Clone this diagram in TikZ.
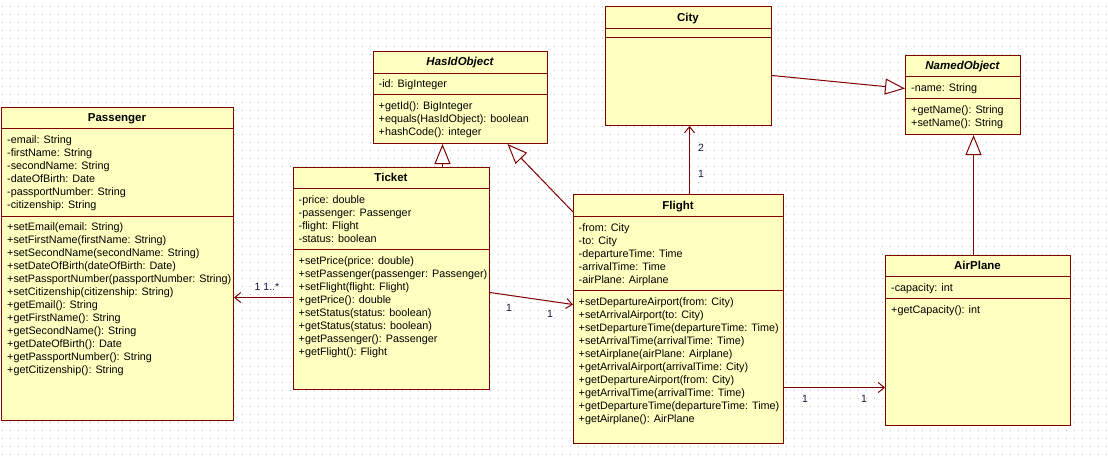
\documentclass[tikz,border=0pt]{standalone}
\usepackage{fontspec}
\setmainfont{Liberation Sans}
\usetikzlibrary{arrows.meta}
\definecolor{umlborder}{RGB}{128,0,0}
\definecolor{umlfill}{RGB}{255,255,192}
\definecolor{griddot}{RGB}{190,190,190}
\definecolor{multcol}{RGB}{20,20,70}
\newcommand\umllines[1]{\begin{tabular}[t]{@{}l@{}}#1\end{tabular}}
\tikzset{
  classbox/.style={draw=umlborder, fill=umlfill, line width=1pt, inner sep=0pt, anchor=north west},
  umltitle/.style={font=\fontsize{11.5}{13}\selectfont\bfseries, anchor=base, inner sep=0pt},
  abstracttitle/.style={font=\fontsize{11.5}{13}\selectfont\bfseries\itshape, anchor=base, inner sep=0pt},
  members/.style={font=\fontsize{10.8}{13}\selectfont, anchor=base west, inner sep=0pt},
  sepline/.style={draw=umlborder, line width=1pt},
  assoc/.style={draw=umlborder, line width=1pt, -{Straight Barb[length=6pt,width=10pt]}},
  gener/.style={draw=umlborder, line width=1pt, -{Triangle[open,length=20pt,width=16pt,fill=white]}},
  mult/.style={font=\fontsize{10.5}{12}\selectfont, text=multcol, inner sep=0pt},
  griddots/.style={draw=griddot, line width=1pt, dash pattern=on 1pt off 7pt}
}
\begin{document}
\begin{tikzpicture}[x=1pt,y=-1pt]
\fill[white] (0,0) rectangle (1108,456);
\useasboundingbox (0,0) rectangle (1108,456);
\foreach \gy in {6,14,...,454} \draw[griddots] (1.5,\gy) -- (1108,\gy);

% ---------------- Passenger
\node[classbox, minimum width=232pt, minimum height=313pt] (passenger) at (1,107) {};
\node[umltitle] (passenger-title) at (117,121) {Passenger};
\draw[sepline] (passenger.west |- 0,128) -- (passenger.east |- 0,128);
\draw[sepline] (passenger.west |- 0,216) -- (passenger.east |- 0,216);
\node[members] (passenger-attrs) at (7,143) {\umllines{-email: String\\-firstName: String\\-secondName: String\\-dateOfBirth: Date\\-passportNumber: String\\-citizenship: String}};
\node[members] (passenger-ops) at (7,230) {\umllines{+setEmail(email: String)\\+setFirstName(firstName: String)\\+setSecondName(secondName: String)\\+setDateOfBirth(dateOfBirth: Date)\\+setPassportNumber(passportNumber: String)\\+setCitizenship(citizenship: String)\\+getEmail(): String\\+getFirstName(): String\\+getSecondName(): String\\+getDateOfBirth(): Date\\+getPassportNumber(): String\\+getCitizenship(): String}};

% ---------------- HasIdObject
\node[classbox, minimum width=174pt, minimum height=92pt] (hasid) at (373,51) {};
\node[abstracttitle] (hasid-title) at (460,65) {HasIdObject};
\draw[sepline] (hasid.west |- 0,73) -- (hasid.east |- 0,73);
\draw[sepline] (hasid.west |- 0,94) -- (hasid.east |- 0,94);
\node[members] (hasid-attrs) at (378.5,87) {\umllines{-id: BigInteger}};
\node[members] (hasid-ops) at (378.5,109) {\umllines{+getId(): BigInteger\\+equals(HasIdObject): boolean\\+hashCode(): integer}};

% ---------------- Ticket
\node[classbox, minimum width=196pt, minimum height=222pt] (ticket) at (293,167) {};
\node[umltitle] (ticket-title) at (391,181) {Ticket};
\draw[sepline] (ticket.west |- 0,188) -- (ticket.east |- 0,188);
\draw[sepline] (ticket.west |- 0,249) -- (ticket.east |- 0,249);
\node[members] (ticket-attrs) at (298.5,203) {\umllines{-price: double\\-passenger: Passenger\\-flight: Flight\\-status: boolean}};
\node[members] (ticket-ops) at (298.5,264) {\umllines{+setPrice(price: double)\\+setPassenger(passenger: Passenger)\\+setFlight(flight: Flight)\\+getPrice(): double\\+setStatus(status: boolean)\\+getStatus(status: boolean)\\+getPassenger(): Passenger\\+getFlight(): Flight}};

% ---------------- City
\node[classbox, minimum width=166pt, minimum height=119pt] (city) at (605,6) {};
\node[umltitle] (city-title) at (688,21) {City};
\draw[sepline] (city.west |- 0,28) -- (city.east |- 0,28);
\draw[sepline] (city.west |- 0,37) -- (city.east |- 0,37);

% ---------------- Flight
\node[classbox, minimum width=210pt, minimum height=249pt] (flight) at (573,194) {};
\node[umltitle] (flight-title) at (678,209) {Flight};
\draw[sepline] (flight.west |- 0,216) -- (flight.east |- 0,216);
\draw[sepline] (flight.west |- 0,290) -- (flight.east |- 0,290);
\node[members] (flight-attrs) at (578.5,231) {\umllines{-from: City\\-to: City\\-departureTime: Time\\-arrivalTime: Time\\-airPlane: Airplane}};
\node[members] (flight-ops) at (578.5,305) {\umllines{+setDepartureAirport(from: City)\\+setArrivalAirport(to: City)\\+setDepartureTime(departureTime: Time)\\+setArrivalTime(arrivalTime: Time)\\+setAirplane(airPlane: Airplane)\\+getArrivalAirport(arrivalTime: City)\\+getDepartureAirport(from: City)\\+getArrivalTime(arrivalTime: Time)\\+getDepartureTime(departureTime: Time)\\+getAirplane(): AirPlane}};

% ---------------- NamedObject
\node[classbox, minimum width=115pt, minimum height=79pt] (named) at (905,55) {};
\node[abstracttitle] (named-title) at (962.5,69) {NamedObject};
\draw[sepline] (named.west |- 0,76) -- (named.east |- 0,76);
\draw[sepline] (named.west |- 0,98) -- (named.east |- 0,98);
\node[members] (named-attrs) at (911,91) {\umllines{-name: String}};
\node[members] (named-ops) at (911,113) {\umllines{+getName(): String\\+setName(): String}};

% ---------------- AirPlane
\node[classbox, minimum width=185pt, minimum height=170pt] (airplane) at (885,255) {};
\node[umltitle] (airplane-title) at (977.5,269) {AirPlane};
\draw[sepline] (airplane.west |- 0,276) -- (airplane.east |- 0,276);
\draw[sepline] (airplane.west |- 0,298) -- (airplane.east |- 0,298);
\node[members] (airplane-attrs) at (891,291) {\umllines{-capacity: int}};
\node[members] (airplane-ops) at (891,313) {\umllines{+getCapacity(): int}};

% ---------------- connectors
\draw[gener] ([xshift=51pt]ticket.north) -- ([xshift=51pt]ticket.north |- hasid.south);
\draw[gener] ([yshift=-18pt]flight.north west) -- ([xshift=47pt]hasid.south);
\draw[gener] ([yshift=-9.5pt]city.east) -- ([yshift=6.5pt]named.west);
\draw[gener] ([xshift=-4.5pt]airplane.north) -- ([xshift=-4.5pt]airplane.north |- named.south);

\draw[assoc] ([yshift=-19pt]ticket.west) -- ([yshift=-19pt]ticket.west -| passenger.east);
\draw[assoc] ([yshift=-14pt]ticket.east) -- ([yshift=14.5pt]flight.west);
\draw[assoc] ([xshift=11pt]flight.north) -- ([xshift=11pt]flight.north |- city.south);
\draw[assoc] ([yshift=-68.5pt]flight.east) -- ([yshift=-68.5pt]flight.east -| airplane.west);

% ---------------- multiplicities
\node[mult] (m-pass) at (267,287) {1 1..*};
\node[mult] (m-tick1) at (509,308) {1};
\node[mult] (m-tick2) at (550,314) {1};
\node[mult] (m-city2) at (701,148) {2};
\node[mult] (m-city1) at (701,174) {1};
\node[mult] (m-air1) at (805,399) {1};
\node[mult] (m-air2) at (864,399) {1};
\end{tikzpicture}
\end{document}
